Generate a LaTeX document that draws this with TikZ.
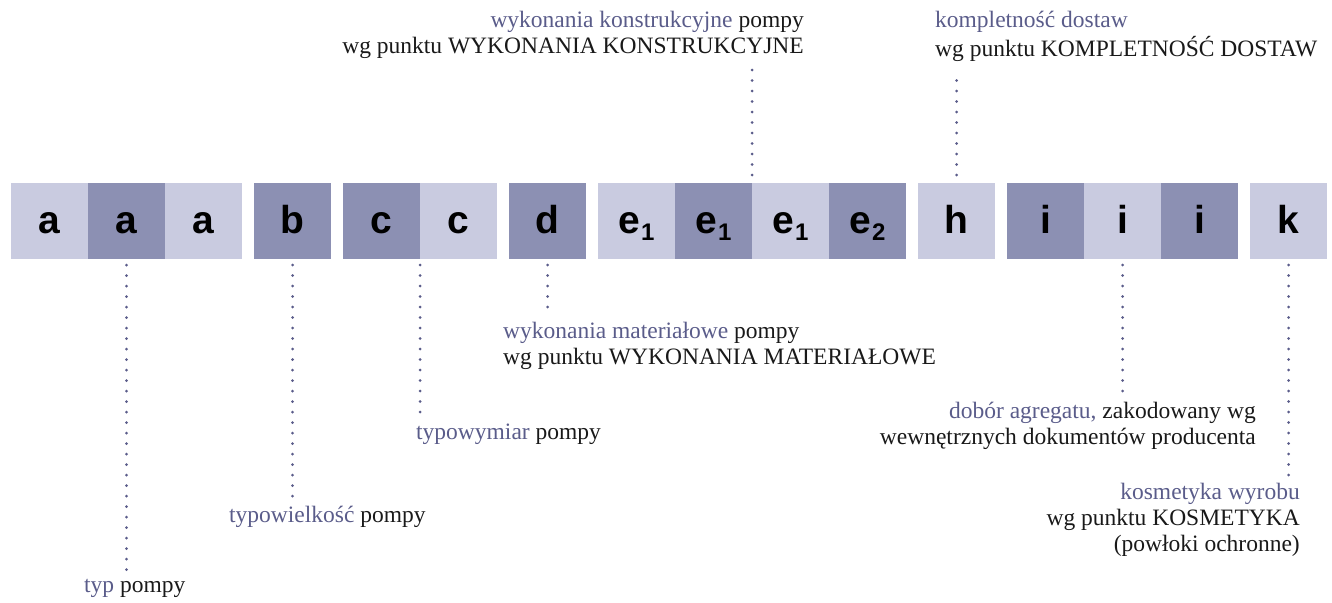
\documentclass[tikz,border=0pt]{standalone}
\usepackage{fontspec}
\setmainfont{Liberation Serif}
\newfontfamily\boxfont{Liberation Sans}
\usetikzlibrary{positioning}

\definecolor{boxlight}{HTML}{C9CBE0}
\definecolor{boxdark}{HTML}{8C90B3}
\definecolor{lblue}{HTML}{5A5C8A}
\definecolor{dotcol}{HTML}{5A5C8A}
\newcommand\esub[1]{e\kern1pt\raisebox{-7pt}{\fontsize{24}{24}\selectfont #1}}

\begin{document}
\begin{tikzpicture}[
    node distance=0pt and 0pt,
    font=\fontsize{23.5}{26}\selectfont,
    % Define styles
    lbox/.style={
        rectangle,
        fill=boxlight,
        minimum width=77pt,
        minimum height=76pt,
        inner sep=0pt,
        outer sep=0pt,
        text height=24pt,
        text depth=0pt,
        font=\boxfont\bfseries\fontsize{39}{39}\selectfont
    },
    dbox/.style={
        lbox,
        fill=boxdark
    },
    note/.style={
        inner sep=0pt,
        text=black!90,
        align=left
    },
    dotline/.style={
        draw,
        dotcol,
        line width=3pt,
        line cap=round,
        dash pattern=on 0pt off 10.5pt
    }
]
\useasboundingbox (0,0) rectangle (1332pt,-602pt);

% Place nodes
% Code row
\node[lbox] (a1) at (49.5pt,-221pt) {a};
\node[dbox, right=of a1] (a2) {a};
\node[lbox, right=of a2] (a3) {a};
\node[dbox, right=12pt of a3] (b) {b};
\node[dbox, right=12pt of b] (c1) {c};
\node[lbox, right=of c1] (c2) {c};
\node[dbox, right=12pt of c2] (d) {d};
\node[lbox, right=12pt of d] (e1) {\esub{1}};
\node[dbox, right=of e1] (e2) {\esub{1}};
\node[lbox, right=of e2] (e3) {\esub{1}};
\node[dbox, right=of e3] (e4) {\esub{2}};
\node[lbox, right=12pt of e4] (h) {h};
\node[dbox, right=12pt of h] (i1) {i};
\node[lbox, right=of i1] (i2) {i};
\node[dbox, right=of i2] (i3) {i};
\node[lbox, right=12pt of i3] (k) {k};

% Descriptions above the row
\node[note, align=right, anchor=north east] (konstr) at (804pt,-9pt)
    {\strut\textcolor{lblue}{wykonania konstrukcyjne} pompy\\wg punktu WYKONANIA KONSTRUKCYJNE};
\node[note, anchor=north west] (kompl) at (935pt,-9pt)
    {\strut\textcolor{lblue}{kompletność dostaw}\\wg punktu KOMPLETNOŚĆ DOSTAW};

% Descriptions below the row
\node[note, anchor=north west] (typ) at (84pt,-574pt) {\strut\textcolor{lblue}{typ} pompy};
\node[note, anchor=north west] (wielk) at (229pt,-504pt) {\strut\textcolor{lblue}{typowielkość} pompy};
\node[note, anchor=north west] (wymiar) at (416pt,-421pt) {\strut\textcolor{lblue}{typowymiar} pompy};
\node[note, anchor=north west] (mater) at (503pt,-320pt)
    {\strut\textcolor{lblue}{wykonania materiałowe} pompy\\wg punktu WYKONANIA MATERIAŁOWE};
\node[note, align=right, anchor=north east] (dobor) at (1256pt,-400pt)
    {\strut\textcolor{lblue}{dobór agregatu,} zakodowany wg\\wewnętrznych dokumentów producenta};
\node[note, align=right, anchor=north east] (kosm) at (1300pt,-481pt)
    {\strut\textcolor{lblue}{kosmetyka wyrobu}\\wg punktu KOSMETYKA\\(powłoki ochronne)};

% Draw edges
\path[dotline, shorten <=6pt, shorten >=3pt] (a2.south) -- (a2.south |- typ.north);
\path[dotline, shorten <=6pt, shorten >=3pt] (b.south) -- (b.south |- wielk.north);
\path[dotline, shorten <=6pt, shorten >=3pt] (c1.south east) -- (c1.south east |- wymiar.north);
\path[dotline, shorten <=6pt, shorten >=3pt] (d.south) -- (d.south |- mater.north);
\path[dotline, shorten <=6pt, shorten >=3pt] (i2.south) -- (i2.south |- dobor.north);
\path[dotline, shorten <=6pt, shorten >=3pt] (k.south) -- (k.south |- kosm.north);
\path[dotline, shorten <=8pt, shorten >=10pt] (e2.north east) -- (e2.north east |- konstr.south);
\path[dotline, shorten <=8pt, shorten >=10pt] (h.north) -- (h.north |- kompl.south);

\end{tikzpicture}
\end{document}
